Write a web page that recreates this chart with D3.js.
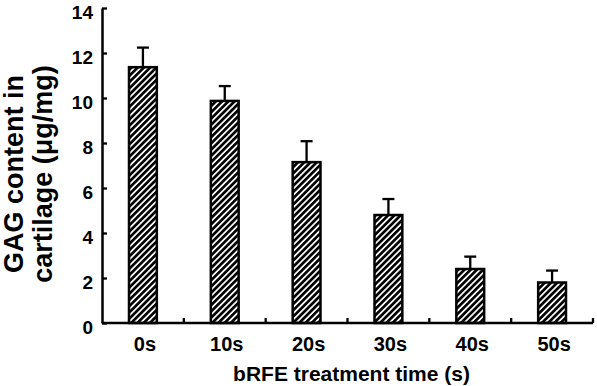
<!DOCTYPE html>
<html>
<head>
<meta charset="utf-8">
<script src="https://cdn.jsdelivr.net/npm/d3@7"></script>
<style>
  body { margin: 0; background: #fff; }
  text { font-family: "Liberation Sans", Arial, sans-serif; fill: #000; }
</style>
</head>
<body>
<div id="wrapper"></div>
<script>
// data
const categories = ["0s", "10s", "20s", "30s", "40s", "50s"]
const gagMean = [11.37, 9.87, 7.15, 4.8, 2.4, 1.8]
const gagErr = [0.87, 0.66, 0.93, 0.71, 0.55, 0.53]
const yTicks = [0, 2, 4, 6, 8, 10, 12, 14]

const dms = {
  width: 597,
  height: 386,
  margin: { top: 8, right: 4, bottom: 63, left: 102 },
}
dms.boundedWidth = dms.width - dms.margin.left - dms.margin.right
dms.boundedHeight = dms.height - dms.margin.top - dms.margin.bottom

const data = categories.map((c, i) => ({ cat: c, mean: gagMean[i], err: gagErr[i] }))

const svg = d3.select("#wrapper")
  .append("svg")
  .attr("width", dms.width)
  .attr("height", dms.height)

// diagonal hatch
const pattern = svg.append("defs")
  .append("pattern")
  .attr("id", "hatch")
  .attr("patternUnits", "userSpaceOnUse")
  .attr("width", 4.4)
  .attr("height", 8)
  .attr("patternTransform", "rotate(45)")
pattern.append("rect").attr("width", 4.4).attr("height", 8).attr("fill", "#fff")
pattern.append("rect").attr("width", 2.7).attr("height", 8).attr("fill", "#000")

const bounds = svg.append("g")
  .attr("transform", `translate(${dms.margin.left},${dms.margin.top})`)

// scales
const xScale = d3.scaleBand()
  .domain(categories)
  .range([0, dms.boundedWidth])
  .padding(0)

const yScale = d3.scaleLinear()
  .domain([0, 14])
  .range([dms.boundedHeight, 0])

const barW = xScale.bandwidth() * 0.34
const mid = d => xScale(d.cat) + xScale.bandwidth() / 2

// bars
const bars = bounds.append("g").selectAll("g")
  .data(data)
  .join("g")

bars.append("line")
  .attr("x1", mid)
  .attr("x2", mid)
  .attr("y1", d => yScale(d.mean))
  .attr("y2", d => yScale(d.mean + d.err))
  .attr("stroke", "#000")
  .attr("stroke-width", 2.3)

bars.append("line")
  .attr("x1", d => mid(d) - 6)
  .attr("x2", d => mid(d) + 6)
  .attr("y1", d => yScale(d.mean + d.err))
  .attr("y2", d => yScale(d.mean + d.err))
  .attr("stroke", "#000")
  .attr("stroke-width", 2.3)

bars.append("rect")
  .attr("x", d => mid(d) - barW / 2)
  .attr("y", d => yScale(d.mean))
  .attr("width", barW)
  .attr("height", d => dms.boundedHeight - yScale(d.mean))
  .attr("fill", "url(#hatch)")
  .attr("stroke", "#000")
  .attr("stroke-width", 2.5)

// y axis
const yAxis = bounds.append("g")
  .call(d3.axisLeft(yScale)
    .tickValues(yTicks)
    .tickFormat(d3.format("d"))
    .tickSizeInner(-5)
    .tickSizeOuter(0)
    .tickPadding(9))
yAxis.select(".domain").attr("stroke-width", 2.5)
yAxis.selectAll(".tick line").attr("stroke-width", 2.3)
yAxis.selectAll(".tick text")
  .attr("dy", "0.57em")
  .style("font-size", "19px")
  .style("font-weight", "bold")

// x axis: ticks at the category boundaries
const xAxis = bounds.append("g")
  .attr("transform", `translate(0,${dms.boundedHeight})`)
xAxis.append("line")
  .attr("x1", 0)
  .attr("x2", xScale.range()[1])
  .attr("stroke", "#000")
  .attr("stroke-width", 2.5)
const edges = categories.slice(1).map(c => xScale(c)).concat([xScale.range()[1]])
xAxis.selectAll(".xtick")
  .data(edges)
  .join("line")
  .attr("class", "xtick")
  .attr("x1", d => d)
  .attr("x2", d => d)
  .attr("y1", 0)
  .attr("y2", -5)
  .attr("stroke", "#000")
  .attr("stroke-width", 2.3)
xAxis.selectAll(".xlabel")
  .data(categories)
  .join("text")
  .attr("class", "xlabel")
  .attr("x", d => xScale(d) + xScale.bandwidth() / 2 + 2)
  .attr("y", 28)
  .attr("text-anchor", "middle")
  .style("font-size", "20px")
  .style("font-weight", "bold")
  .text(d => d)

xAxis.append("text")
  .attr("x", dms.boundedWidth / 2 + 4)
  .attr("y", 58)
  .attr("text-anchor", "middle")
  .style("font-size", "21px")
  .style("font-weight", "bold")
  .text("bRFE treatment time (s)")

// y axis title, two lines
const yTitle = svg.append("text")
  .attr("transform", `translate(23,174) rotate(-90)`)
  .attr("text-anchor", "middle")
  .style("font-size", "27px")
  .style("font-weight", "bold")
yTitle.append("tspan").attr("x", 0).attr("y", 0).text("GAG content in")
yTitle.append("tspan").attr("x", 0).attr("y", 29).text("cartilage (μg/mg)")
</script>
</body>
</html>
